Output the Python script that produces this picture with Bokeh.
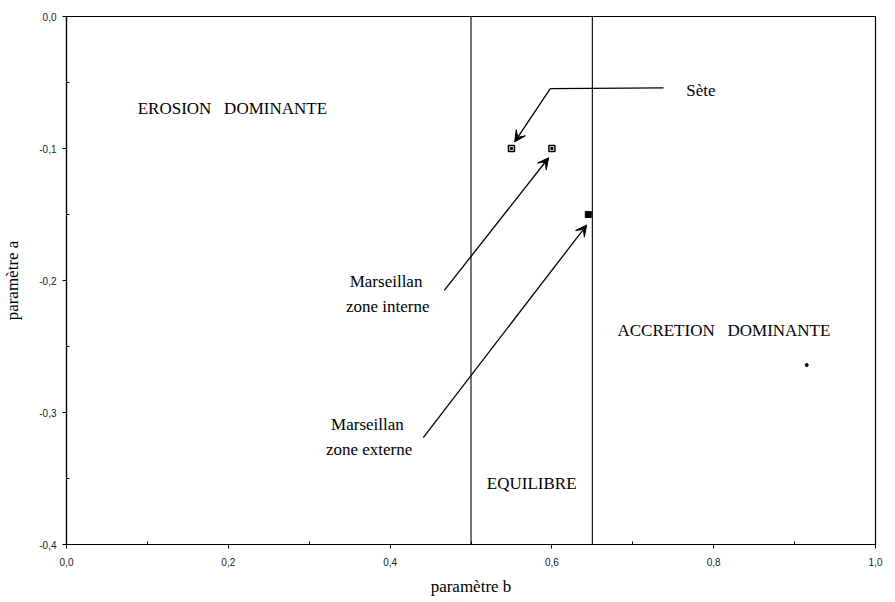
from bokeh.plotting import figure
from bokeh.models import Span, Arrow, VeeHead, FixedTicker, Label, Range1d
from bokeh.embed import file_html
from bokeh.resources import INLINE

# ---- data ----
site_names = ["Sète", "Marseillan zone interne", "Marseillan zone externe"]
param_b = [0.55, 0.60, 0.645]
param_a = [-0.10, -0.10, -0.15]
open_marker = [True, True, False]

extra_b = [0.915]
extra_a = [-0.264]

boundaries_b = [0.5, 0.65]

x_ticks = [0.0, 0.2, 0.4, 0.6, 0.8, 1.0]
x_tick_labels = ["0,0", "0,2", "0,4", "0,6", "0,8", "1,0"]
x_minor = [0.1, 0.3, 0.5, 0.7, 0.9]
y_ticks = [0.0, -0.1, -0.2, -0.3, -0.4]
y_tick_labels = ["0,0", "-0,1", "-0,2", "-0,3", "-0,4"]
y_minor = [-0.05, -0.15, -0.25, -0.35]

SERIF = "Liberation Serif"
SANS = "Liberation Sans"
GAP = "\u00a0\u00a0\u00a0"

p = figure(frame_width=809, frame_height=528, output_backend="svg", toolbar_location=None,
           x_range=Range1d(0, 1), y_range=Range1d(-0.4, 0.0),
           min_border_left=59, min_border_top=16, min_border_right=8, min_border_bottom=36,
           background_fill_color="white", border_fill_color="white")
p.grid.visible = False
p.outline_line_color = "black"
p.outline_line_width = 1.2

p.xaxis.ticker = FixedTicker(ticks=x_ticks, minor_ticks=x_minor)
p.yaxis.ticker = FixedTicker(ticks=y_ticks, minor_ticks=y_minor)
p.xaxis.major_label_overrides = {t: l for t, l in zip(x_ticks, x_tick_labels)}
p.yaxis.major_label_overrides = {t: l for t, l in zip(y_ticks, y_tick_labels)}

for ax in (p.xaxis[0], p.yaxis[0]):
    ax.axis_line_color = "black"
    ax.axis_line_width = 1.2
    ax.major_tick_line_color = "black"
    ax.minor_tick_line_color = "black"
    ax.major_tick_out = 4
    ax.major_tick_in = 0
    ax.minor_tick_out = 0
    ax.minor_tick_in = 3
    ax.major_label_text_font = SANS
    ax.major_label_text_font_size = "10px"
    ax.major_label_text_color = "#222222"
    ax.axis_label_text_font = SERIF
    ax.axis_label_text_font_size = "17px"
    ax.axis_label_text_font_style = "normal"
    ax.axis_label_text_color = "black"

p.xaxis.axis_label = "paramètre b"
p.yaxis.axis_label = "paramètre a"
p.xaxis.major_label_standoff = 9
p.xaxis.axis_label_standoff = 8
p.yaxis.major_label_standoff = 6
p.yaxis.axis_label_standoff = 14

for b in boundaries_b:
    p.add_layout(Span(location=b, dimension="height", line_color="black", line_width=1.1))

# points
ob = [b for b, o in zip(param_b, open_marker) if o]
oa = [a for a, o in zip(param_a, open_marker) if o]
fb = [b for b, o in zip(param_b, open_marker) if not o]
fa = [a for a, o in zip(param_a, open_marker) if not o]
p.scatter(ob, oa, marker="square", size=6, fill_color="white", line_color="black", line_width=1.5)
p.scatter(ob, oa, marker="square", size=2, fill_color="black", line_color="black")
p.scatter(fb, fa, marker="square", size=6, fill_color="black", line_color="black")
p.scatter(extra_b, extra_a, marker="circle", size=3, fill_color="black", line_color="black")

# region labels
def lab(x, y, t, align="left"):
    p.add_layout(Label(x=x, y=y, text=t, text_font=SERIF, text_font_size="17px",
                       text_align=align, text_baseline="middle", text_color="black"))

lab(0.088, -0.070, "EROSION" + GAP + "DOMINANTE")
lab(0.681, -0.238, "ACCRETION" + GAP + "DOMINANTE")
lab(0.575, -0.354, "EQUILIBRE", "center")
lab(0.766, -0.056, "Sète")
lab(0.395, -0.201, "Marseillan", "center")
lab(0.397, -0.220, "zone interne", "center")
lab(0.372, -0.309, "Marseillan", "center")
lab(0.374, -0.328, "zone externe", "center")

# arrows
p.line([0.738, 0.598], [-0.054, -0.0547], line_color="black", line_width=1.3)
arrows = [
    ((0.598, -0.0547), (param_b[0] + 0.004, param_a[0] + 0.005)),
    ((0.467, -0.2075), (param_b[1] - 0.004, param_a[1] - 0.007)),
    ((0.441, -0.319), (param_b[2] - 0.002, param_a[2] - 0.008)),
]
for (xs, ys), (xe, ye) in arrows:
    p.add_layout(Arrow(x_start=xs, y_start=ys, x_end=xe, y_end=ye,
                       line_color="black", line_width=1.3,
                       end=VeeHead(size=11, fill_color="black", line_color="black", line_width=1)))

open("out.html", "w").write(file_html(p, INLINE))
